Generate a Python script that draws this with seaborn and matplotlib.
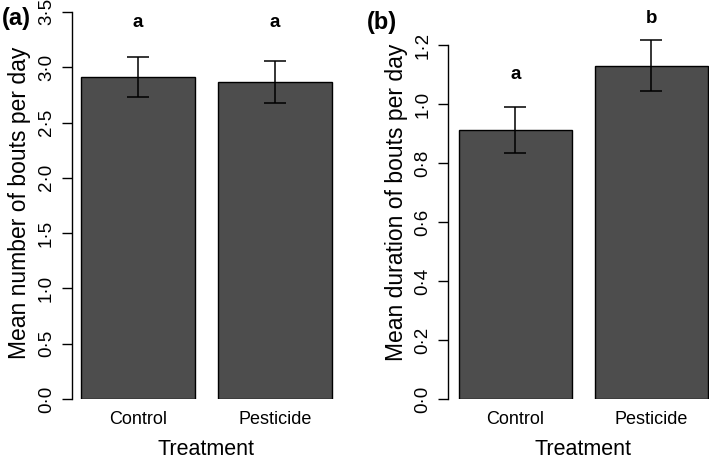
import matplotlib
matplotlib.use("Agg")
import matplotlib.pyplot as plt
import seaborn as sns
import numpy as np
import pandas as pd

categories = ["Control", "Pesticide"]
bouts_mean = [2.91, 2.87]
bouts_se = [0.18, 0.19]
bouts_letters = ["a", "a"]
bouts_letter_y = [3.40, 3.40]
bouts_ticks = [0.0, 0.5, 1.0, 1.5, 2.0, 2.5, 3.0, 3.5]

dur_mean = [0.912, 1.130]
dur_se = [0.078, 0.087]
dur_letters = ["a", "b"]
dur_letter_y = [1.10, 1.29]
dur_ticks = [0.0, 0.2, 0.4, 0.6, 0.8, 1.0, 1.2]

sns.set_theme(style="white")
plt.rcParams['font.family'] = ['Liberation Sans', 'DejaVu Sans']
plt.rcParams['text.color'] = 'black'
plt.rcParams['axes.labelcolor'] = 'black'
plt.rcParams['xtick.color'] = 'black'
plt.rcParams['ytick.color'] = 'black'

W, H = 709, 459
fig = plt.figure(figsize=(W / 100, H / 100), dpi=100)
ax1 = fig.add_axes([71.7 / W, 60 / H, 269.3 / W, 392.6 / H])
ax2 = fig.add_axes([448.3 / W, 60 / H, 269.7 / W, 392.6 / H])

panels = [
    (ax1, bouts_mean, bouts_se, bouts_letters, bouts_letter_y, bouts_ticks,
     "Mean number of bouts per day", (0, 3.55), (-0.484, 1.482), "(a)"),
    (ax2, dur_mean, dur_se, dur_letters, dur_letter_y, dur_ticks,
     "Mean duration of bouts per day", (0, 1.331), (-0.494, 1.489), "(b)"),
]

for ax, means, ses, letters, ly, ticks, ylab, ylim, xlim, tag in panels:
    df = pd.DataFrame({"Treatment": categories, "value": means})
    sns.barplot(data=df, x="Treatment", y="value", color="#4d4d4d",
                saturation=1, edgecolor="black", linewidth=1.0,
                width=0.833, errorbar=None, ax=ax)
    xpos = np.arange(len(categories))
    ax.errorbar(xpos, means, yerr=ses, fmt="none", ecolor="black",
                elinewidth=1.1, capsize=8, capthick=1.1)
    for i, (t, y) in enumerate(zip(letters, ly)):
        ax.text(i, y, t, ha="center", va="center", fontsize=13.5,
                fontweight="bold", color="black")
    ax.set_ylim(*ylim)
    ax.set_xlim(*xlim)
    ax.set_yticks(ticks)
    ax.set_yticklabels([f"{t:.1f}".replace(".", "\u00b7") for t in ticks],
                       rotation=90, va="center")
    ax.tick_params(axis="y", length=7, width=1, direction="out",
                   labelsize=13.5, pad=5, left=True, colors="black")
    ax.tick_params(axis="x", length=0, labelsize=13, pad=9, colors="black")
    for s in ["top", "right", "bottom"]:
        ax.spines[s].set_visible(False)
    ax.spines["left"].set_bounds(ticks[0], ticks[-1])
    ax.spines["left"].set_color("black")
    ax.spines["left"].set_linewidth(1)
    ax.set_ylabel(ylab, fontsize=16.5, labelpad=5, color="black")
    ax.set_xlabel("Treatment", fontsize=15.5, labelpad=7.5, color="black")
    ax.patch.set_alpha(0)

fig.text(2 / W, 1 - 18 / H, "(a)", fontsize=17, fontweight="bold",
         ha="left", va="center", color="black")
fig.text(367 / W, 1 - 23 / H, "(b)", fontsize=17, fontweight="bold",
         ha="left", va="center", color="black")

fig.savefig("out.png", dpi=100)
